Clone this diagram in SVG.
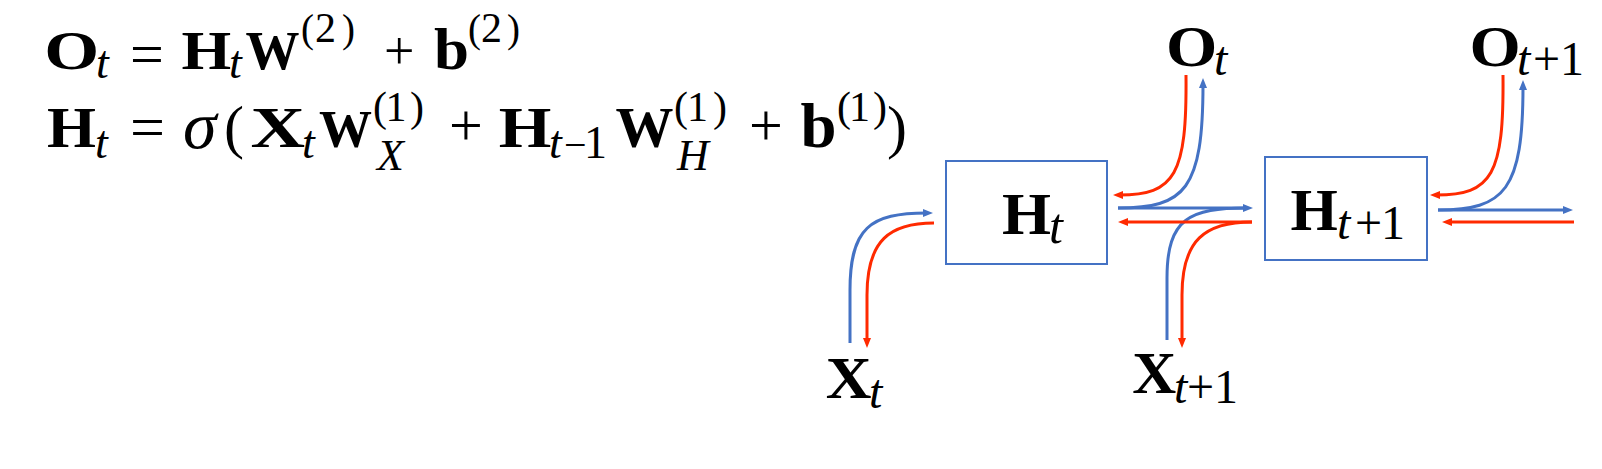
<svg xmlns="http://www.w3.org/2000/svg" width="1602" height="469" viewBox="0 0 1602 469">
<style>
text{font-family:"Liberation Serif","Times New Roman",serif;fill:#000}
.b{font-weight:bold}
.i{font-style:italic}
.box{fill:none;stroke:#4472C4;stroke-width:2}
.bl{fill:none;stroke:#4472C4;stroke-width:3}
.rd{fill:none;stroke:#FF2A00;stroke-width:3}
.bla{marker-end:url(#ab)}
.rda{marker-end:url(#ar)}
</style>
<defs>
<marker id="ab" viewBox="0 0 10 8" refX="4" refY="4" markerWidth="10" markerHeight="8" markerUnits="userSpaceOnUse" orient="auto"><path d="M0,0 L10,4 L0,8 z" fill="#4472C4"/></marker>
<marker id="ar" viewBox="0 0 10 8" refX="4" refY="4" markerWidth="10" markerHeight="8" markerUnits="userSpaceOnUse" orient="auto"><path d="M0,0 L10,4 L0,8 z" fill="#FF2A00"/></marker>
</defs>
<rect width="1602" height="469" fill="#fff"/>
<g id="equations">
<text class="b" x="44.2" y="69" font-size="54" textLength="55" lengthAdjust="spacingAndGlyphs">O</text>
<text class="i" x="96" y="77.5" font-size="46">t</text>
<text x="130" y="73.5" font-size="60">=</text>
<text class="b" x="181.5" y="68.5" font-size="54" textLength="49.7" lengthAdjust="spacingAndGlyphs">H</text>
<text class="i" x="229" y="77.5" font-size="46">t</text>
<text class="b" x="245.5" y="68.5" font-size="54" textLength="54" lengthAdjust="spacingAndGlyphs">W</text>
<text x="301" y="42" font-size="39">(</text>
<text x="315" y="42" font-size="42">2</text>
<text x="342" y="42" font-size="39">)</text>
<text x="384" y="68.5" font-size="54">+</text>
<text class="b" x="434" y="68.5" font-size="60" textLength="35" lengthAdjust="spacingAndGlyphs">b</text>
<text x="468" y="42" font-size="39">(</text>
<text x="481" y="42" font-size="42">2</text>
<text x="507" y="42" font-size="39">)</text>

<text class="b" x="47.1" y="146.5" font-size="58" textLength="49" lengthAdjust="spacingAndGlyphs">H</text>
<text class="i" x="95" y="157.5" font-size="46">t</text>
<text x="130" y="148" font-size="62">=</text>
<text class="i" x="183" y="148" font-size="68">σ</text>
<text x="224" y="147" font-size="60">(</text>
<text class="b" x="250.5" y="146.5" font-size="58" textLength="54.6" lengthAdjust="spacingAndGlyphs">X</text>
<text class="i" x="302" y="157.5" font-size="46">t</text>
<text class="b" x="319" y="146.5" font-size="53">W</text>
<text x="373" y="121" font-size="42">(</text>
<text x="385.5" y="121" font-size="42">1</text>
<text x="410" y="121" font-size="42">)</text>
<text class="i" x="377" y="170" font-size="44">X</text>
<text x="449" y="145" font-size="60">+</text>
<text class="b" x="498.7" y="146.5" font-size="58" textLength="52.6" lengthAdjust="spacingAndGlyphs">H</text>
<text class="i" x="549" y="157.5" font-size="46">t</text>
<text x="564" y="157.5" font-size="40">−</text>
<text x="584" y="157.5" font-size="46">1</text>
<text class="b" x="615.6" y="146.5" font-size="58">W</text>
<text x="674" y="121" font-size="42">(</text>
<text x="687" y="121" font-size="42">1</text>
<text x="713" y="121" font-size="42">)</text>
<text class="i" x="677" y="170" font-size="44">H</text>
<text x="749" y="145" font-size="60">+</text>
<text class="b" x="800.5" y="146.5" font-size="64" textLength="36" lengthAdjust="spacingAndGlyphs">b</text>
<text x="837" y="121" font-size="42">(</text>
<text x="849" y="121" font-size="42">1</text>
<text x="873" y="121" font-size="42">)</text>
<text x="887" y="147" font-size="60">)</text>
</g>

<g id="connectors">
<path class="bl bla" d="M850,343 L850,290 C850,228 870,213 927,213"/>
<path class="bl bla" d="M1118,208 L1247,208"/>
<path class="bl bla" d="M1118,208 C1185,208 1203,190 1203,84"/>
<path class="bl" d="M1167,340 L1167,278 C1167,218 1190,208 1247,208"/>
<path class="bl bla" d="M1438,210 L1567,210"/>
<path class="bl bla" d="M1438,210 C1505,210 1523,190 1523,86"/>
<path class="rd rda" d="M934,223 C890,223 867,240 867,295 L867,342"/>
<path class="rd rda" d="M1252,222 L1124,222"/>
<path class="rd rda" d="M1186,75 C1187,175 1175,195 1119,195"/>
<path class="rd rda" d="M1252,222 C1205,222 1182,240 1182,295 L1182,342"/>
<path class="rd rda" d="M1574,222 L1448,222"/>
<path class="rd rda" d="M1503,75 C1504,175 1492,195 1436,195"/>
</g>

<g id="node-Ht">
<rect class="box" x="946" y="161" width="161" height="103"/>
<text class="b" x="1002" y="233.5" font-size="60" textLength="49" lengthAdjust="spacingAndGlyphs">H</text>
<text class="i" x="1049" y="243" font-size="50">t</text>
</g>
<g id="node-Ht1">
<rect class="box" x="1265" y="157" width="162" height="103"/>
<text class="b" x="1290.5" y="230" font-size="60" textLength="47.3" lengthAdjust="spacingAndGlyphs">H</text>
<text class="i" x="1337" y="238.5" font-size="48">t</text>
<text x="1355" y="238.5" font-size="48">+</text>
<text x="1381" y="238.5" font-size="48">1</text>
</g>
<g id="node-Ot">
<text class="b" x="1166" y="66" font-size="56" textLength="51.3" lengthAdjust="spacingAndGlyphs">O</text>
<text class="i" x="1214" y="74.5" font-size="48">t</text>
</g>
<g id="node-Ot1">
<text class="b" x="1469.4" y="66" font-size="56" textLength="51.2" lengthAdjust="spacingAndGlyphs">O</text>
<text class="i" x="1517" y="74.5" font-size="48">t</text>
<text x="1533" y="74.5" font-size="48">+</text>
<text x="1560" y="74.5" font-size="48">1</text>
</g>
<g id="node-Xt">
<text class="b" x="825.7" y="398" font-size="60" textLength="45.8" lengthAdjust="spacingAndGlyphs">X</text>
<text class="i" x="869" y="408" font-size="48">t</text>
</g>
<g id="node-Xt1">
<text class="b" x="1132.3" y="393" font-size="60" textLength="44" lengthAdjust="spacingAndGlyphs">X</text>
<text class="i" x="1174" y="403" font-size="48">t</text>
<text x="1187" y="403" font-size="48">+</text>
<text x="1214" y="403" font-size="48">1</text>
</g>
</svg>
